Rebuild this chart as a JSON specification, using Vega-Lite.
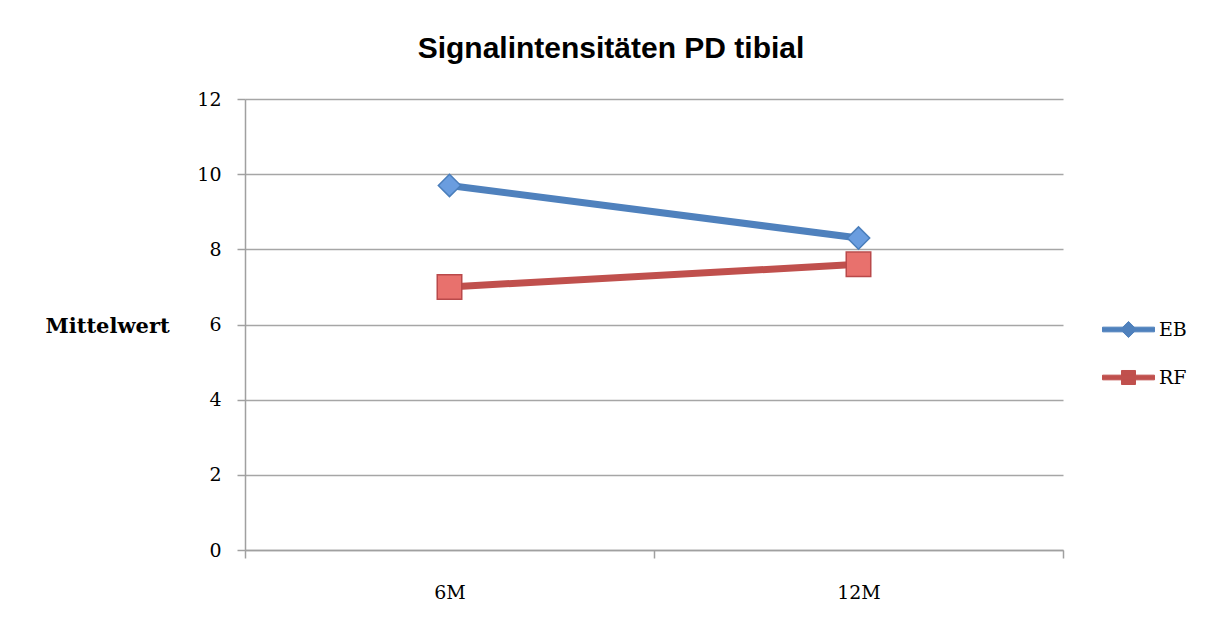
{
  "$schema": "https://vega.github.io/schema/vega-lite/v6.json",
  "autosize": "none",
  "width": 818,
  "height": 451,
  "padding": {"left": 245, "top": 99, "right": 148, "bottom": 74},
  "background": "#ffffff",
  "title": {
    "text": "Signalintensitäten PD tibial",
    "font": "Liberation Sans",
    "fontSize": 30,
    "fontWeight": "bold",
    "color": "#000000",
    "anchor": "middle",
    "baseline": "alphabetic",
    "offset": 2,
    "dx": -43
  },
  "data": {
    "values": [
      {"zeit": "6M", "gruppe": "EB", "wert": 9.7},
      {"zeit": "12M", "gruppe": "EB", "wert": 8.3},
      {"zeit": "6M", "gruppe": "RF", "wert": 7.0},
      {"zeit": "12M", "gruppe": "RF", "wert": 7.6}
    ]
  },
  "encoding": {
    "x": {
      "field": "zeit",
      "type": "nominal",
      "sort": ["6M", "12M"],
      "scale": {"paddingInner": 0, "paddingOuter": 0},
      "axis": {
        "title": null,
        "labelAngle": 0,
        "labelFont": "DejaVu Serif",
        "labelFontSize": 19,
        "labelColor": "#000000",
        "labelPadding": 25,
        "tickBand": "extent",
        "tickSize": 8,
        "tickColor": "#a0a0a0",
        "tickWidth": 1.5,
        "domainColor": "#a0a0a0",
        "domainWidth": 1.5,
        "grid": false
      }
    },
    "y": {
      "field": "wert",
      "type": "quantitative",
      "scale": {"domain": [0, 12], "nice": false},
      "axis": {
        "values": [0, 2, 4, 6, 8, 10, 12],
        "title": "Mittelwert",
        "titleAngle": 0,
        "titleFont": "DejaVu Serif",
        "titleFontSize": 21,
        "titleFontWeight": "bold",
        "titleColor": "#000000",
        "titleAlign": "left",
        "titleBaseline": "middle",
        "titleX": -200,
        "titleY": 227,
        "labelFont": "DejaVu Serif",
        "labelFontSize": 19,
        "labelColor": "#000000",
        "labelPadding": 16,
        "tickSize": 8,
        "tickColor": "#a0a0a0",
        "tickWidth": 1.5,
        "domainColor": "#a0a0a0",
        "domainWidth": 1.5,
        "grid": true,
        "gridColor": "#a6a6a6",
        "gridWidth": 1.5
      }
    }
  },
  "layer": [
    {
      "mark": {"type": "line", "strokeWidth": 7},
      "encoding": {
        "color": {
          "field": "gruppe",
          "type": "nominal",
          "scale": {"domain": ["EB", "RF"], "range": ["#4f81bd", "#c0504d"]},
          "legend": {
            "orient": "none",
            "legendX": 857,
            "legendY": 204,
            "title": null,
            "labelFont": "DejaVu Serif",
            "labelFontSize": 19,
            "labelColor": "#000000",
            "labelOffset": 4,
            "symbolSize": 2700,
            "symbolStrokeWidth": 1,
            "rowPadding": 11,
            "encode": {
              "symbols": {
                "update": {
                  "shape": {"signal": "datum.value === 'EB' ? 'M-1,-0.09L1,-0.09L1,0.09L-1,0.09Z M-0.31,0L0,-0.31L0.31,0L0,0.31Z' : 'M-1,-0.09L1,-0.09L1,0.09L-1,0.09Z M-0.27,-0.27L0.27,-0.27L0.27,0.27L-0.27,0.27Z'"},
                  "fill": {"signal": "datum.value === 'EB' ? '#4f81bd' : '#c0504d'"},
                  "stroke": {"signal": "datum.value === 'EB' ? '#4f81bd' : '#c0504d'"},
                  "opacity": {"value": 1}
                }
              }
            }
          }
        }
      }
    },
    {
      "transform": [{"filter": "datum.gruppe === 'EB'"}],
      "mark": {"type": "point", "shape": "diamond", "size": 500, "filled": true, "fill": "#6a9ddf", "stroke": "#4a7ebb", "strokeWidth": 1.5, "opacity": 1}
    },
    {
      "transform": [{"filter": "datum.gruppe === 'RF'"}],
      "mark": {"type": "point", "shape": "square", "size": 600, "filled": true, "fill": "#e8716d", "stroke": "#b9494a", "strokeWidth": 1.5, "opacity": 1}
    }
  ],
  "config": {
    "view": {"stroke": null}
  }
}
